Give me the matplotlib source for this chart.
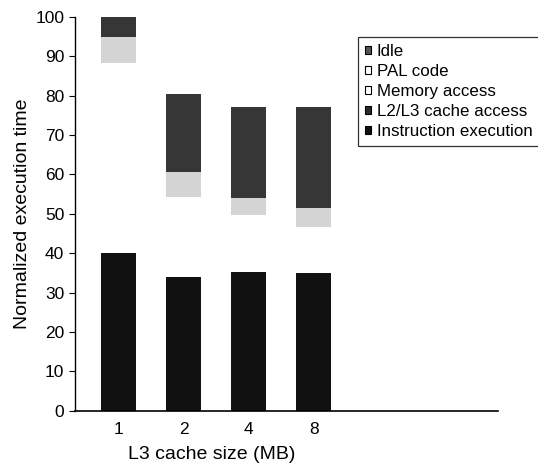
import matplotlib.pyplot as plt
from matplotlib.patches import Patch
import numpy as np

plt.rcParams['font.family'] = ['Liberation Sans', 'DejaVu Sans']

# data (normalized execution time, %)
cache_sizes = ['1', '2', '4', '8']
instruction_exec = [40.1, 34.0, 35.3, 35.0]
memory_access = [48.2, 20.3, 14.4, 11.7]
pal_code = [6.7, 6.4, 4.3, 4.8]
l2l3_access = [5.0, 19.7, 23.2, 25.7]
idle = [0, 0, 0, 0]

# bottom-up stacking order, colours as they look in the print
segments = [
    ('Instruction execution', instruction_exec, '#111111'),
    ('Memory access', memory_access, '#ffffff'),
    ('PAL code', pal_code, '#d4d4d4'),
    ('L2/L3 cache access', l2l3_access, '#363636'),
    ('Idle', idle, '#6a6a6a'),
]

fig = plt.figure(figsize=(5.38, 4.69), dpi=100)
ax = fig.add_axes([0.139, 0.124, 0.786, 0.840])

x = np.arange(len(cache_sizes))
bottom = np.zeros(len(cache_sizes))
for name, vals, col in segments:
    vals = np.array(vals, dtype=float)
    ax.bar(x, vals, width=0.54, bottom=bottom, color=col, linewidth=0)
    bottom += vals

ax.set_xlim(-0.677, 5.83)
ax.set_ylim(0, 100)
ax.set_yticks(range(0, 101, 10))
ax.set_xticks(x)
ax.set_xticklabels(cache_sizes)
ax.tick_params(axis='x', length=0, labelsize=12.5, pad=8)
ax.tick_params(axis='y', length=4, labelsize=12.5, direction='out')
ax.spines['top'].set_visible(False)
ax.spines['right'].set_visible(False)
ax.spines['left'].set_linewidth(1.0)
ax.spines['bottom'].set_linewidth(1.2)

ax.set_ylabel('Normalized execution time', fontsize=14)
ax.set_xlabel('L3 cache size (MB)', fontsize=14)
ax.xaxis.set_label_coords(0.324, -0.09)
ax.yaxis.set_label_coords(-0.104, 0.5)

# legend in the same order as the original (top to bottom)
leg_items = [('Idle', '#555555'), ('PAL code', '#ffffff'),
             ('Memory access', '#ffffff'), ('L2/L3 cache access', '#2a2a2a'),
             ('Instruction execution', '#111111')]
handles = [Patch(facecolor=c, edgecolor='black', linewidth=0.8, label=n)
           for n, c in leg_items]
leg = fig.legend(handles=handles, loc='upper left',
                 bbox_to_anchor=(0.665, 0.921), bbox_transform=fig.transFigure,
                 fontsize=12.2, handlelength=0.36, handleheight=0.36,
                 handletextpad=0.35, labelspacing=0.3, borderpad=0.4,
                 borderaxespad=0, fancybox=False, frameon=True)
leg.get_frame().set_edgecolor('black')
leg.get_frame().set_linewidth(0.9)

fig.savefig('out.png', dpi=100)
